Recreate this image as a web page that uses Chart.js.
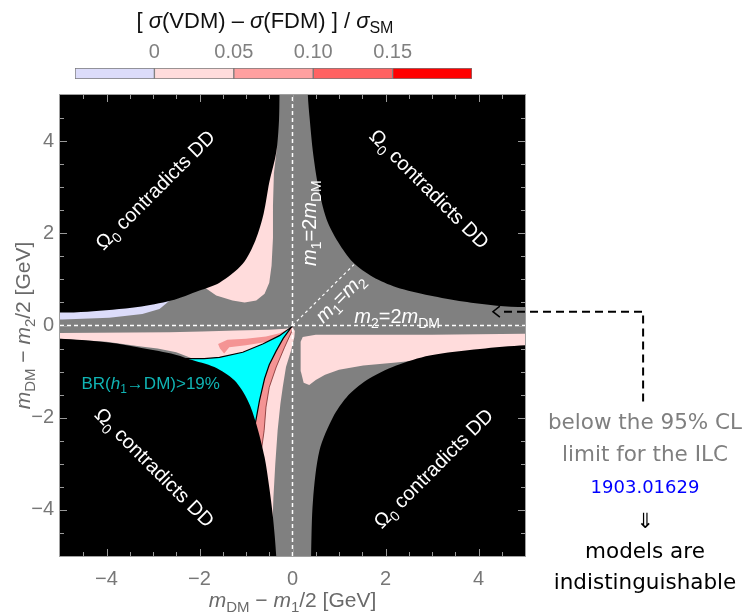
<!DOCTYPE html>
<html><head><meta charset="utf-8">
<script src="https://cdn.jsdelivr.net/npm/chart.js@4/dist/chart.umd.min.js"></script>
<style>
html,body{margin:0;padding:0;background:#fff;}
#wrap{position:relative;width:750px;height:613px;overflow:hidden;}
#main{position:absolute;left:0;top:0;}
#cbar{position:absolute;left:0;top:0;}
</style></head><body>
<div id="wrap"><canvas id="main" width="750" height="613"></canvas><canvas id="cbar" width="750" height="92"></canvas></div>
<script>
// ---------- data ----------
const X_TICKS = [-4, -2, 0, 2, 4];
const Y_TICKS = [-4, -2, 0, 2, 4];
const MINOR_TICKS = [-4.5,-4,-3.5,-3,-2.5,-2,-1.5,-1,-0.5,0,0.5,1,1.5,2,2.5,3,3.5,4,4.5];
const CB_EDGES = [-0.05, 0, 0.05, 0.10, 0.15, 0.20];
const CB_TICKS = [0, 0.05, 0.10, 0.15];
const CB_TICK_LABELS = ['0', '0.05', '0.10', '0.15'];
const CB_COLORS = ['#dcdcfa', '#ffdcdc', '#ffa0a0', '#ff6262', '#ff0000'];

// region outlines, [x, y] in GeV
const LAV_UL = [[-5.5,0.13],[-4.95,0.13],[-3.94,0.17],[-3.23,0.25],[-2.86,0.36],[-2.62,0.56],[-2.5,1.0],[-5.5,1.0]];
const PINK_UL = [[-0.33,3.9],[-0.40,3.3],[-0.42,2.6],[-0.42,1.9],[-0.45,1.3],[-0.50,0.93],[-0.60,0.69],[-0.78,0.54],[-1.03,0.50],[-1.29,0.54],[-1.64,0.65],[-1.88,0.82],[-1.6,1.3],[-0.9,2.5],[-0.5,3.9]];
const PINK_LL = [[-5.5,-0.16],[-5,-0.16],[-2.65,-0.145],[-1.94,-0.13],[-1.21,-0.11],[-0.50,-0.09],[-0.14,-0.07],[0,-0.03],[0.05,-0.12],[0.04,-0.25],[-0.03,-0.54],[-0.14,-0.9],[-0.21,-1.34],[-0.26,-1.7],[-0.32,-2.28],[-0.37,-3.0],[-0.41,-3.72],[-0.43,-4.3],[-0.6,-4.3],[-1.2,-1.6],[-1.5,-0.9],[-2.2,-0.70],[-2.29,-0.66],[-2.5,-0.58],[-2.9,-0.50],[-3.3,-0.45],[-4,-0.35],[-5,-0.29],[-5.5,-0.29]];
const PINK_LR = [[0.22,-0.25],[0.5,-0.20],[1.5,-0.20],[3,-0.20],[4,-0.19],[5,-0.18],[5.5,-0.18],[5.5,-0.7],[4,-0.7],[3,-0.72],[2.23,-0.80],[1.52,-0.87],[1.0,-0.96],[0.7,-1.07],[0.5,-1.18],[0.36,-1.29],[0.24,-1.24],[0.18,-1.0],[0.17,-0.6],[0.18,-0.35]];
const SALMON_T = [[-1.6,-0.40],[-1.4,-0.31],[-1.0,-0.29],[-0.57,-0.24],[-0.28,-0.17],[-0.06,-0.07],[-0.28,-0.25],[-0.57,-0.36],[-1.0,-0.43],[-1.36,-0.47],[-1.47,-0.61],[-1.56,-0.5]];
const SALMON_R = [[-0.02,-0.03],[0.01,-0.07],[-0.17,-0.47],[-0.35,-0.90],[-0.50,-1.34],[-0.57,-1.77],[-0.61,-2.28],[-0.66,-2.64],[-0.9,-2.2],[-0.6,-0.9],[-0.2,-0.25]];
const CYAN = [[-2.29,-0.72],[-1.9,-0.72],[-1.57,-0.69],[-1.07,-0.58],[-0.64,-0.40],[-0.28,-0.22],[-0.02,-0.03],[-0.2,-0.28],[-0.35,-0.55],[-0.5,-0.85],[-0.6,-1.15],[-0.71,-1.63],[-0.8,-2.13],[-1.3,-1.5],[-2.0,-0.95]];
const BLACK_UL = [[-5.5,0.28],[-5,0.28],[-4.41,0.30],[-3.33,0.40],[-2.61,0.54],[-2.0,0.76],[-1.57,0.93],[-1.07,1.34],[-0.80,1.84],[-0.62,2.43],[-0.50,3.1],[-0.38,3.6],[-0.33,3.9],[-0.29,4.45],[-0.28,5],[-0.28,5.5],[-5.5,5.5]];
const BLACK_UR = [[5.5,5.5],[0.33,5.5],[0.33,5],[0.37,4.48],[0.44,3.76],[0.55,3.04],[0.73,2.31],[0.98,1.81],[1.30,1.37],[1.73,1.05],[2.23,0.83],[2.95,0.65],[3.67,0.52],[4.39,0.43],[5,0.40],[5.5,0.40]];
const BLACK_LL = [[-5.5,-0.29],[-5,-0.29],[-4.05,-0.36],[-3.33,-0.47],[-2.61,-0.61],[-2.22,-0.73],[-1.68,-0.90],[-1.25,-1.19],[-0.96,-1.63],[-0.78,-2.13],[-0.60,-2.86],[-0.50,-3.51],[-0.42,-4.16],[-0.35,-5],[-0.35,-5.5],[-5.5,-5.5]];
const BLACK_LR = [[5.5,-5.5],[0.40,-5.5],[0.40,-5],[0.44,-3.80],[0.58,-2.71],[0.87,-1.99],[1.16,-1.56],[1.59,-1.19],[2.23,-0.87],[2.95,-0.65],[4.03,-0.51],[5,-0.43],[5.5,-0.43]];
const V_LINE = [[0,-5],[0,5]];
const H_LINE = [[-5,0],[5,0]];
const DIAG_LINE = [[0,0],[1.32,1.32]];
const ARROW_LINE = [[7.54,-1.65],[7.54,0.30],[4.46,0.30]];
const ARROW_HEAD = [[4.46,0.42],[4.31,0.30],[4.46,0.18]];

const OMEGA_TEXT = [['Ω',''],['0','s'],[' contradicts DD','']];
const M1_2MDM = [['m','i'],['1','s'],['=2',''],['m','i'],['DM','s']];
const M1_M2 = [['m','i'],['1','s'],['=',''],['m','i'],['2','s']];
const M2_2MDM = [['m','i'],['2','s'],['=2',''],['m','i'],['DM','s']];
const BR_TEXT = [['BR(',''],['h','i'],['1','s'],['→DM)>19%','']];
const X_TITLE = [['m','i'],['DM','s'],[' − ',''],['m','i'],['1','s'],['/2 [GeV]','']];
const Y_TITLE = [['m','i'],['DM','s'],[' − ',''],['m','i'],['2','s'],['/2 [GeV]','']];
const CB_TITLE = [['[ ',''],['σ','i'],['(VDM) – ',''],['σ','i'],['(FDM) ] / ',''],['σ','i'],['SM','s']];
const SIDE_TEXT = ['below the 95% CL', 'limit for the ILC', '1903.01629', '⇓', 'models are', 'indistinguishable'];

// ---------- helpers ----------
function drawRich(ctx, segs, x, y, o) {
  const size = o.size, fam = o.family || 'Liberation Sans';
  const fontFor = s => (s.includes('i') ? 'italic ' : '') + (s.includes('s') ? Math.round(size * 0.72) : size) + 'px "' + fam + '"';
  ctx.save();
  ctx.translate(x, y);
  ctx.rotate((o.rot || 0) * Math.PI / 180);
  ctx.fillStyle = o.color;
  ctx.textAlign = 'left';
  ctx.textBaseline = 'alphabetic';
  let w = 0;
  for (const [t, s] of segs) { ctx.font = fontFor(s); w += ctx.measureText(t).width; }
  let cx = -w / 2;
  const base = size * 0.36;
  for (const [t, s] of segs) {
    ctx.font = fontFor(s);
    ctx.fillText(t, cx, base + (s.includes('s') ? size * 0.24 : 0));
    cx += ctx.measureText(t).width;
  }
  ctx.restore();
}
const fmt = v => (v < 0 ? '−' + Math.abs(v) : String(v));

function poly(pts, color, extra) {
  return Object.assign({
    data: pts.map(([x, y]) => ({x, y})), showLine: true, fill: 'shape',
    backgroundColor: color, borderColor: 'rgba(0,0,0,0)', borderWidth: 0,
    pointRadius: 0, pointHoverRadius: 0, tension: 0
  }, extra || {});
}
function line(pts, color, extra) {
  return Object.assign({
    data: pts.map(([x, y]) => ({x, y})), showLine: true, fill: false,
    borderColor: color, borderWidth: 1.5, pointRadius: 0, pointHoverRadius: 0, tension: 0
  }, extra || {});
}

const datasets = [
  poly(LAV_UL, '#dcdcfa'),
  poly(PINK_UL, '#ffdcdc'),
  poly(PINK_LL, '#ffdcdc'),
  poly(PINK_LR, '#ffdcdc'),
  poly(SALMON_T, '#f49494'),
  poly(SALMON_R, '#f49494', {borderColor: '#7a2a2a', borderWidth: 0.8}),
  poly(CYAN, '#00ffff', {borderColor: '#000', borderWidth: 1.2}),
  poly(BLACK_UL, '#000', {tension: 0.3}),
  poly(BLACK_UR, '#000', {tension: 0.3}),
  poly(BLACK_LL, '#000', {tension: 0.3}),
  poly(BLACK_LR, '#000', {tension: 0.3}),
  line(V_LINE, '#fff', {borderDash: [4, 3]}),
  line(H_LINE, '#fff', {borderDash: [4, 3]}),
  line(DIAG_LINE, '#fff', {borderDash: [3, 3], borderWidth: 1.2}),
  line(ARROW_LINE, '#000', {borderDash: [8, 5], borderWidth: 2, clip: false}),
  line(ARROW_HEAD, '#000', {borderWidth: 1.5, clip: false})
];
datasets.forEach((d, i) => { d.order = datasets.length - i; });

const bgPlugin = {
  id: 'bg',
  beforeDatasetsDraw(chart) {
    const {ctx, chartArea: a} = chart;
    ctx.save(); ctx.fillStyle = '#808080';
    ctx.fillRect(a.left, a.top, a.right - a.left, a.bottom - a.top);
    ctx.restore();
  },
  afterDatasetsDraw(chart) {
    const {ctx} = chart;
    const xs = chart.scales.x, ys = chart.scales.y;
    const P = (x, y) => [xs.getPixelForValue(x), ys.getPixelForValue(y)];
    const a = chart.chartArea;
    ctx.save();
    ctx.beginPath(); ctx.rect(a.left, a.top, a.right - a.left, a.bottom - a.top); ctx.clip();
    let p;
    p = P(-2.96, 2.95); drawRich(ctx, OMEGA_TEXT, p[0], p[1], {size: 20, color: '#fff', rot: -45});
    p = P(2.95, 2.97); drawRich(ctx, OMEGA_TEXT, p[0], p[1], {size: 20, color: '#fff', rot: 45});
    p = P(-2.96, -3.07); drawRich(ctx, OMEGA_TEXT, p[0], p[1], {size: 20, color: '#fff', rot: 45});
    p = P(3.02, -3.09); drawRich(ctx, OMEGA_TEXT, p[0], p[1], {size: 20, color: '#fff', rot: -45});
    p = P(0.36, 2.22); drawRich(ctx, M1_2MDM, p[0], p[1], {size: 20, color: '#fff', rot: -90});
    p = P(1.01, 0.61); drawRich(ctx, M1_M2, p[0], p[1], {size: 20, color: '#fff', rot: -45});
    p = P(2.25, 0.21); drawRich(ctx, M2_2MDM, p[0], p[1], {size: 20, color: '#fff'});
    p = P(-3.05, -1.25); drawRich(ctx, BR_TEXT, p[0], p[1], {size: 17, color: '#10b4b4'});
    // small inward frame ticks
    ctx.strokeStyle = '#9a9a9a'; ctx.lineWidth = 1;
    ctx.beginPath();
    MINOR_TICKS.forEach(v => {
      const L = (v % 2 === 0) ? 7 : 4;
      const px = Math.round(xs.getPixelForValue(v)) + 0.5;
      const py = Math.round(ys.getPixelForValue(v)) + 0.5;
      ctx.moveTo(px, a.bottom); ctx.lineTo(px, a.bottom - L);
      ctx.moveTo(px, a.top); ctx.lineTo(px, a.top + L);
      ctx.moveTo(a.left, py); ctx.lineTo(a.left + L, py);
      ctx.moveTo(a.right, py); ctx.lineTo(a.right - L, py);
    });
    ctx.stroke();
    ctx.restore();
  },
  afterDraw(chart) {
    const {ctx, chartArea: a} = chart;
    ctx.save();
    ctx.strokeStyle = '#a0a0a0'; ctx.lineWidth = 1;
    ctx.strokeRect(a.left - 0.5, a.top - 0.5, a.right - a.left + 1, a.bottom - a.top + 1);
    ctx.restore();
    drawRich(ctx, X_TITLE, (a.left + a.right) / 2, 599, {size: 21, color: '#6a6a6a'});
    drawRich(ctx, Y_TITLE, 22, (a.top + a.bottom) / 2, {size: 21, color: '#6a6a6a', rot: -90});
    // side annotation
    const cx = 645;
    const rows = [[423, '#7f7f7f', 21.5], [455, '#7f7f7f', 21.5], [488, '#0000ff', 18], [523, '#000', 21], [552, '#000', 21.5], [583, '#000', 21.5]];
    ctx.save();
    ctx.textAlign = 'center'; ctx.textBaseline = 'middle';
    SIDE_TEXT.forEach((t, i) => {
      const [y, c, s] = rows[i];
      ctx.font = s + 'px "DejaVu Sans"'; ctx.fillStyle = c;
      ctx.fillText(t, cx, y);
    });
    ctx.restore();
  }
};

Chart.defaults.font.family = 'Liberation Sans';

new Chart(document.getElementById('main'), {
  type: 'scatter',
  data: {datasets},
  options: {
    responsive: false, animation: false, events: [],
    layout: {padding: {left: 0, top: 95, right: 225, bottom: 0}},
    plugins: {legend: {display: false}, tooltip: {enabled: false}},
    scales: {
      x: {
        type: 'linear', min: -5, max: 5,
        afterBuildTicks: s => { s.ticks = X_TICKS.map(v => ({value: v})); },
        afterFit: s => { s.height = 57; },
        ticks: {color: '#777', font: {size: 20}, padding: 11, callback: v => fmt(v)},
        grid: {display: false, drawTicks: false}, border: {display: false}
      },
      y: {
        type: 'linear', min: -5, max: 5,
        afterBuildTicks: s => { s.ticks = Y_TICKS.map(v => ({value: v})); },
        afterFit: s => { s.width = 60; },
        ticks: {color: '#777', font: {size: 20}, padding: 6, callback: v => fmt(v)},
        grid: {display: false, drawTicks: false}, border: {display: false}
      }
    }
  },
  plugins: [bgPlugin]
});

const cbTitle = {
  id: 'cbTitle',
  afterDraw(chart) {
    drawRich(chart.ctx, CB_TITLE, 265, 20, {size: 22, color: '#111'});
  }
};

new Chart(document.getElementById('cbar'), {
  type: 'bar',
  data: {
    labels: ['cb'],
    datasets: CB_COLORS.map((c, i) => ({
      data: [[CB_EDGES[i], CB_EDGES[i + 1]]], backgroundColor: c,
      borderColor: '#7a7a7a', borderWidth: 1, borderSkipped: false, grouped: false,
      barPercentage: 1, categoryPercentage: 1
    }))
  },
  options: {
    indexAxis: 'y', responsive: false, animation: false, events: [],
    layout: {padding: {left: 75, right: 278, top: 0, bottom: 13}},
    plugins: {legend: {display: false}, tooltip: {enabled: false}},
    scales: {
      x: {
        type: 'linear', position: 'top', min: -0.05, max: 0.2,
        afterBuildTicks: s => { s.ticks = CB_TICKS.map(v => ({value: v})); },
        afterFit: s => { s.height = 68; },
        ticks: {callback: (v, i) => CB_TICK_LABELS[i], color: '#808080', font: {size: 20}, padding: 4},
        grid: {display: false, drawTicks: false}, border: {display: false}
      },
      y: {display: false}
    }
  },
  plugins: [cbTitle]
});
</script>
</body></html>
